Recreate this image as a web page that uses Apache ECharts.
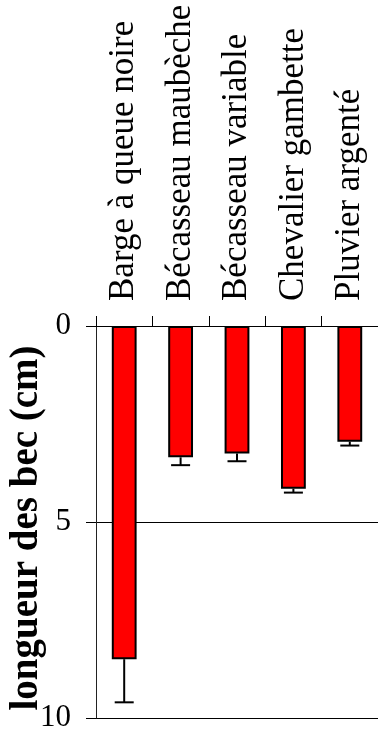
<!DOCTYPE html>
<html>
<head>
<meta charset="utf-8">
<script src="https://cdn.jsdelivr.net/npm/echarts@6/dist/echarts.min.js"></script>
<style>
  html, body { margin: 0; padding: 0; background: #fff; }
  #chart { width: 378px; height: 733px; }
</style>
</head>
<body>
<div id="chart"></div>
<script>
// Bill length per wader species (mean and error)
const species = ['Barge à queue noire', 'Bécasseau maubèche', 'Bécasseau variable', 'Chevalier gambette', 'Pluvier argenté'];
const billLength = [8.5, 3.35, 3.25, 4.15, 2.95];
const billError = [1.1, 0.2, 0.2, 0.1, 0.1];
const yTicks = [0, 5, 10];

const serif = '"Liberation Serif", "Times New Roman", serif';

const chart = echarts.init(document.getElementById('chart'));

chart.setOption({
  animation: false,
  grid: { left: 96, right: 0, top: 326, bottom: 15, containLabel: false, outerBoundsMode: 'none' },
  xAxis: {
    type: 'category',
    position: 'top',
    data: species,
    axisLine: { show: true, lineStyle: { color: '#000', width: 1 } },
    axisTick: { show: true, length: 10, lineStyle: { color: '#000', width: 1 } },
    axisLabel: {
      rotate: 90,
      margin: 25,
      fontFamily: serif,
      fontSize: 35,
      color: '#000',
      interval: 0
    }
  },
  yAxis: {
    type: 'value',
    inverse: true,
    min: yTicks[0],
    max: yTicks[yTicks.length - 1],
    interval: 5,
    name: 'longueur des bec (cm)',
    nameLocation: 'middle',
    nameRotate: 90,
    nameGap: 50,
    nameMoveOverlap: false,
    nameTextStyle: { fontFamily: serif, fontSize: 39, fontWeight: 'bold', color: '#000', padding: [0, 12, 0, 0] },
    axisLine: { show: true, lineStyle: { color: '#222', width: 1 } },
    axisTick: { show: true, length: 10, lineStyle: { color: '#000', width: 1 } },
    axisLabel: { margin: 25, fontFamily: serif, fontSize: 31, color: '#000' },
    splitLine: { show: true, lineStyle: { color: '#000', width: 1 } }
  },
  series: [
    {
      type: 'bar',
      data: billLength,
      barWidth: '44%',
      itemStyle: { color: '#ff0000', borderColor: '#000', borderWidth: 2 },
      z: 3
    },
    {
      type: 'custom',
      z: 2,
      data: billLength.map((v, i) => [i, v, v + billError[i]]),
      renderItem: function (params, api) {
        const top = api.coord([api.value(0), api.value(1)]);
        const bot = api.coord([api.value(0), api.value(2)]);
        const half = 9.5;
        return {
          type: 'group',
          children: [
            { type: 'line', shape: { x1: top[0], y1: top[1], x2: bot[0], y2: bot[1] }, style: { stroke: '#000', lineWidth: 2 } },
            { type: 'line', shape: { x1: bot[0] - half, y1: bot[1], x2: bot[0] + half, y2: bot[1] }, style: { stroke: '#000', lineWidth: 2 } }
          ]
        };
      }
    }
  ]
});
</script>
</body>
</html>
